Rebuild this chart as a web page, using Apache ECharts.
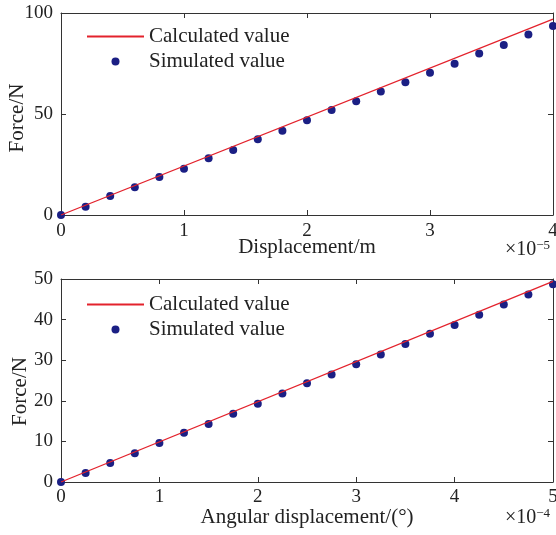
<!DOCTYPE html>
<html>
<head>
<meta charset="utf-8">
<script src="https://cdn.jsdelivr.net/npm/echarts@6/dist/echarts.min.js"></script>
<style>
  html, body { margin: 0; padding: 0; background: #fff; }
  #chart { width: 556px; height: 535px; }
</style>
</head>
<body>
<div id="chart"></div>
<script>
// 上图：位移 (×10^-5 m) - 力
const dispCalcX = [0, 4];
const dispCalcY = [0, 97];
const dispSimX = [0, 0.2, 0.4, 0.6, 0.8, 1.0, 1.2, 1.4, 1.6, 1.8, 2.0, 2.2, 2.4, 2.6, 2.8, 3.0, 3.2, 3.4, 3.6, 3.8, 4.0];
const dispSimY = [0, 4.1, 9.4, 13.7, 18.8, 22.9, 28.1, 32.2, 37.5, 41.7, 46.9, 52.0, 56.3, 61.2, 65.7, 70.4, 74.9, 79.9, 84.2, 89.3, 93.6];

// 下图：角位移 (×10^-4 °) - 力
const angCalcX = [0, 5];
const angCalcY = [0, 49.4];
const angSimX = [0, 0.25, 0.5, 0.75, 1.0, 1.25, 1.5, 1.75, 2.0, 2.25, 2.5, 2.75, 3.0, 3.25, 3.5, 3.75, 4.0, 4.25, 4.5, 4.75, 5.0];
const angSimY = [0, 2.2, 4.7, 7.1, 9.6, 12.1, 14.3, 16.8, 19.3, 21.8, 24.3, 26.5, 29.0, 31.4, 34.0, 36.5, 38.7, 41.2, 43.7, 46.2, 48.7];

const legendNames = ['Calculated value', 'Simulated value'];

const FONT = '"Liberation Serif", "Times New Roman", serif';
const AXIS_COLOR = '#333';
const TEXT_COLOR = '#222';
const LINE_COLOR = '#e3222c';
const DOT_COLOR = '#1b1f84';

const zip = (xs, ys) => xs.map((x, i) => [x, ys[i]]);

// 主坐标轴（带刻度标签）
const mainAxis = (gridIndex, position, min, max, interval, margin, extra) => Object.assign({
  type: 'value',
  gridIndex,
  position,
  min,
  max,
  interval,
  nameMoveOverlap: false,
  axisLine: { show: true, onZero: false, lineStyle: { color: AXIS_COLOR, width: 1 } },
  axisTick: { show: true, inside: true, length: 5, lineStyle: { color: AXIS_COLOR } },
  axisLabel: { color: TEXT_COLOR, fontFamily: FONT, fontSize: 19, margin },
  splitLine: { show: false },
}, extra || {});

// 对侧坐标轴（只有刻度，形成边框）
const mirrorAxis = (gridIndex, position, min, max, interval) => ({
  type: 'value',
  gridIndex,
  position,
  min,
  max,
  interval,
  axisLine: { show: true, onZero: false, lineStyle: { color: AXIS_COLOR, width: 1 } },
  axisTick: { show: true, inside: true, length: 5, lineStyle: { color: AXIS_COLOR } },
  axisLabel: { show: false },
  splitLine: { show: false },
});

const nameStyle = (padding) => ({ color: TEXT_COLOR, fontFamily: FONT, fontSize: 21, padding });

const legendCfg = (top) => ({
  // 计算值图例只显示线，不显示圆点
  data: [{ name: legendNames[0], itemStyle: { opacity: 0 } }, { name: legendNames[1] }],
  orient: 'vertical',
  left: 86,
  top,
  padding: 0,
  itemWidth: 57,
  itemHeight: 8,
  itemGap: 4,
  itemTextGap: 7,
  textStyle: { color: TEXT_COLOR, fontFamily: FONT, fontSize: 21, lineHeight: 21 },
  selectedMode: false,
});

const chart = echarts.init(document.getElementById('chart'));
chart.setOption({
  animation: false,
  backgroundColor: '#fff',
  grid: [
    { left: 61, top: 13, width: 492, height: 202, outerBoundsMode: 'none', containLabel: false },
    { left: 61, top: 279, width: 492, height: 203, outerBoundsMode: 'none', containLabel: false },
  ],
  xAxis: [
    mainAxis(0, 'bottom', 0, 4, 1, 7, {
      name: 'Displacement/m', nameLocation: 'middle', nameGap: 22, nameTextStyle: nameStyle(0),
    }),
    mirrorAxis(0, 'top', 0, 4, 1),
    mainAxis(1, 'bottom', 0, 5, 1, 6, {
      name: 'Angular displacement/(°)', nameLocation: 'middle', nameGap: 25, nameTextStyle: nameStyle(0),
    }),
    mirrorAxis(1, 'top', 0, 5, 1),
  ],
  yAxis: [
    mainAxis(0, 'left', 0, 100, 50, 8, {
      name: 'Force/N', nameLocation: 'middle', nameGap: 33, nameTextStyle: nameStyle([0, 8, 0, 0]),
    }),
    mirrorAxis(0, 'right', 0, 100, 50),
    mainAxis(1, 'left', 0, 50, 10, 8, {
      name: 'Force/N', nameLocation: 'middle', nameGap: 30, nameTextStyle: nameStyle([0, 22, 0, 0]),
    }),
    mirrorAxis(1, 'right', 0, 50, 10),
  ],
  legend: [legendCfg(26), legendCfg(294)],
  series: [
    {
      name: legendNames[0], type: 'line', xAxisIndex: 0, yAxisIndex: 0,
      data: zip(dispCalcX, dispCalcY), symbol: 'none',
      lineStyle: { color: LINE_COLOR, width: 1.3 }, itemStyle: { color: LINE_COLOR },
    },
    {
      name: legendNames[1], type: 'scatter', xAxisIndex: 0, yAxisIndex: 0,
      data: zip(dispSimX, dispSimY), symbolSize: 8,
      itemStyle: { color: DOT_COLOR, opacity: 1 },
    },
    {
      name: legendNames[0], type: 'line', xAxisIndex: 2, yAxisIndex: 2,
      data: zip(angCalcX, angCalcY), symbol: 'none',
      lineStyle: { color: LINE_COLOR, width: 1.3 }, itemStyle: { color: LINE_COLOR },
    },
    {
      name: legendNames[1], type: 'scatter', xAxisIndex: 2, yAxisIndex: 2,
      data: zip(angSimX, angSimY), symbolSize: 8,
      itemStyle: { color: DOT_COLOR, opacity: 1 },
    },
  ],
  graphic: [
    {
      type: 'text', left: 505, top: 239,
      style: {
        text: '×10{sup|−5}', fill: TEXT_COLOR, font: '20px ' + FONT,
        rich: { sup: { fontSize: 13, fontFamily: FONT, padding: [0, 0, 9, 0], fill: TEXT_COLOR } },
      },
    },
    {
      type: 'text', left: 505, top: 507,
      style: {
        text: '×10{sup|−4}', fill: TEXT_COLOR, font: '20px ' + FONT,
        rich: { sup: { fontSize: 13, fontFamily: FONT, padding: [0, 0, 9, 0], fill: TEXT_COLOR } },
      },
    },
  ],
});
</script>
</body>
</html>
